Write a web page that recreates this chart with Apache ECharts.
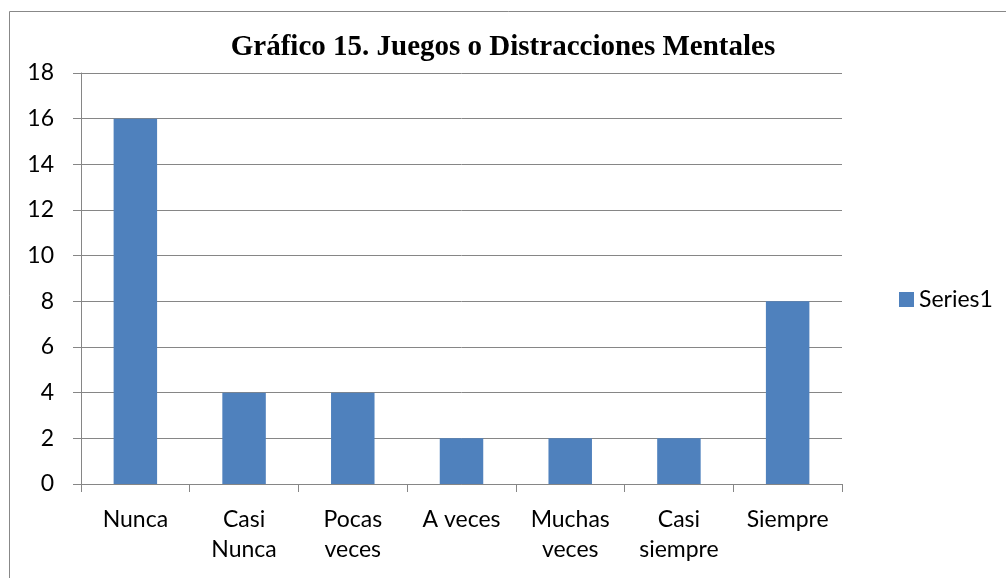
<!DOCTYPE html>
<html lang="es">
<head>
    <meta charset="UTF-8">
    <title>Gráfico 15</title>
    <script type="text/javascript" src="https://cdn.jsdelivr.net/npm/echarts@6/dist/echarts.min.js"></script>
    <style>
        html, body { margin: 0; padding: 0; background: #fff; }
    </style>
</head>
<body>
    <div id="main" style="width: 1006px; height: 578px;"></div>
    <script type="text/javascript">
        // datos del gráfico
        var categorias = ['Nunca', 'Casi\nNunca', 'Pocas\nveces', 'A veces', 'Muchas\nveces', 'Casi\nsiempre', 'Siempre'];
        var valores = [16, 4, 4, 2, 2, 2, 8];
        var serieNombre = 'Series1';
        var titulo = 'Gráfico 15. Juegos o Distracciones Mentales';

        var myChart = echarts.init(document.getElementById('main'));

        myChart.setOption({
            animation: false,
            graphic: [{
                type: 'rect',
                left: 7,
                top: 9,
                shape: { width: 1020, height: 600 },
                style: { fill: 'none', stroke: '#888', lineWidth: 1 }
            }],
            title: {
                text: titulo,
                left: 'center',
                top: 28,
                textStyle: {
                    fontFamily: 'Liberation Serif',
                    fontWeight: 'bold',
                    fontSize: 29,
                    color: '#000'
                }
            },
            legend: {
                data: [serieNombre],
                orient: 'vertical',
                left: 894,
                top: 283,
                itemWidth: 15,
                itemHeight: 15,
                itemGap: 8,
                icon: 'rect',
                textStyle: { fontFamily: 'Lato', fontSize: 23, color: '#000' }
            },
            grid: { left: 81, right: 164, top: 73, bottom: 94 },
            xAxis: {
                type: 'category',
                data: categorias,
                axisLine: { lineStyle: { color: '#868686' } },
                axisTick: { show: true, length: 8, lineStyle: { color: '#868686' } },
                axisLabel: {
                    margin: 21,
                    interval: 0,
                    fontFamily: 'Lato',
                    fontSize: 23,
                    lineHeight: 30,
                    color: '#000'
                }
            },
            yAxis: {
                type: 'value',
                min: 0,
                max: 18,
                interval: 2,
                axisLine: { show: true, lineStyle: { color: '#868686' } },
                axisTick: { show: true, length: 8, lineStyle: { color: '#868686' } },
                splitLine: { lineStyle: { color: '#868686' } },
                axisLabel: {
                    margin: 27,
                    fontFamily: 'Lato',
                    fontSize: 23,
                    color: '#000'
                }
            },
            series: [{
                name: serieNombre,
                type: 'bar',
                data: valores,
                barWidth: '40%',
                itemStyle: { color: '#4F81BD' }
            }]
        });
    </script>
</body>
</html>
